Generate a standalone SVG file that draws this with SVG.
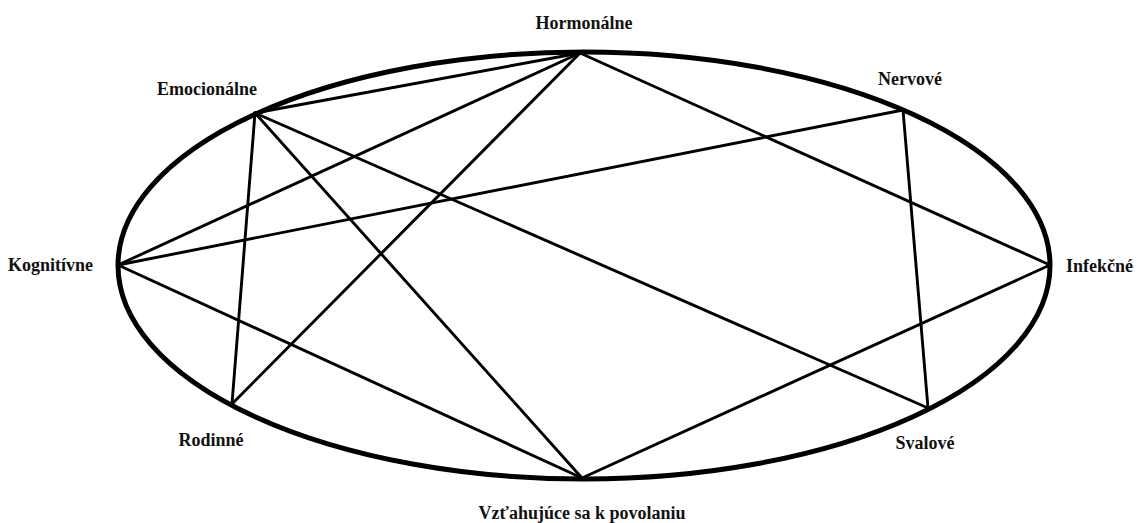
<svg xmlns="http://www.w3.org/2000/svg" width="1146" height="523" viewBox="0 0 1146 523">
<style>
.lbl{font-family:"Liberation Serif","Times New Roman",serif;font-weight:bold;font-size:18px;fill:#111;}
.e{stroke:#000;stroke-width:2.9;fill:none;stroke-linecap:round;}
.ring{stroke:#000;stroke-width:5;fill:none;}
</style>
<rect width="1146" height="523" fill="#fff"/>
<ellipse class="ring" cx="584" cy="265.5" rx="466" ry="213.5"/>
<g id="connectors">
<line class="e" x1="255" y1="113" x2="580" y2="53"/>
<line class="e" x1="255" y1="113" x2="232" y2="404"/>
<line class="e" x1="255" y1="113" x2="582" y2="478"/>
<line class="e" x1="255" y1="113" x2="928" y2="408"/>
<line class="e" x1="118" y1="265" x2="580" y2="53"/>
<line class="e" x1="118" y1="265" x2="903" y2="110"/>
<line class="e" x1="118" y1="265" x2="582" y2="478"/>
<line class="e" x1="580" y1="53" x2="232" y2="404"/>
<line class="e" x1="580" y1="53" x2="1050" y2="265"/>
<line class="e" x1="903" y1="110" x2="928" y2="408"/>
<line class="e" x1="1050" y1="265" x2="582" y2="478"/>
</g>
<g id="hormonalne"><text class="lbl" x="584" y="29" text-anchor="middle">Hormonálne</text></g>
<g id="emocionalne"><text class="lbl" x="207" y="95" text-anchor="middle">Emocionálne</text></g>
<g id="nervove"><text class="lbl" x="910" y="85" text-anchor="middle">Nervové</text></g>
<g id="kognitivne"><text class="lbl" x="8" y="271">Kognitívne</text></g>
<g id="infekcne"><text class="lbl" x="1066" y="272">Infekčné</text></g>
<g id="rodinne"><text class="lbl" x="211" y="446" text-anchor="middle">Rodinné</text></g>
<g id="svalove"><text class="lbl" x="925" y="449" text-anchor="middle">Svalové</text></g>
<g id="vztahujuce"><text class="lbl" x="582" y="519" text-anchor="middle">Vzťahujúce sa k povolaniu</text></g>
</svg>
